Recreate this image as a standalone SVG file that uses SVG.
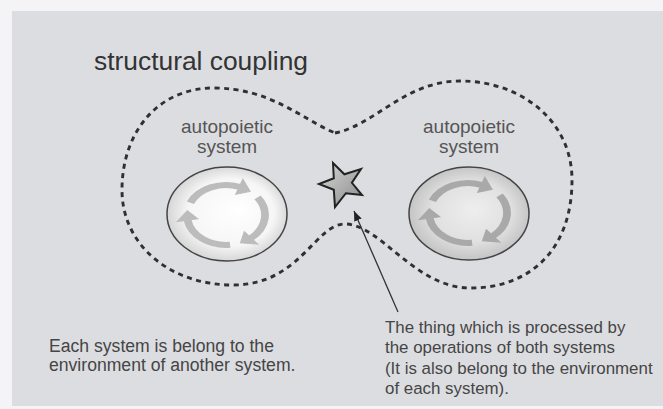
<svg xmlns="http://www.w3.org/2000/svg" width="663" height="409" viewBox="0 0 663 409">
  <defs>
    <style>
      .title { font-family: "Liberation Sans", Arial, sans-serif; font-size: 25px; fill: #333333; }
      .lbl { font-family: "Liberation Sans", Arial, sans-serif; font-size: 19px; fill: #555555; text-anchor: middle; }
      .note { font-family: "Liberation Sans", Arial, sans-serif; fill: #454545; }
      .outline { fill: none; stroke: #303030; stroke-width: 2.9; stroke-dasharray: 5 4.5; }
      .sys { stroke: #444; stroke-width: 1.5; }
      .shaft { fill: none; stroke-width: 6; }
    </style>
    <radialGradient id="gL" cx="0.5" cy="0.5" r="0.55" fx="0.6" fy="0.45">
      <stop offset="0" stop-color="#ffffff"/>
      <stop offset="0.65" stop-color="#f6f6f6"/>
      <stop offset="1" stop-color="#cdcdcd"/>
    </radialGradient>
    <radialGradient id="gR" cx="0.5" cy="0.5" r="0.55" fx="0.55" fy="0.45">
      <stop offset="0" stop-color="#eeeeee"/>
      <stop offset="0.6" stop-color="#e0e0e0"/>
      <stop offset="1" stop-color="#bdbdbd"/>
    </radialGradient>
    <linearGradient id="gStar" x1="0" y1="0" x2="1" y2="1">
      <stop offset="0" stop-color="#d8d8d8"/>
      <stop offset="1" stop-color="#8a8a8a"/>
    </linearGradient>
    <marker id="ah" viewBox="0 0 10 8" refX="10" refY="4" markerWidth="10" markerHeight="8" markerUnits="userSpaceOnUse" orient="auto">
      <path d="M0,0 L10,4 L0,8 Z" fill="#222"/>
    </marker>
    <g id="cycle">
      <path class="shaft" d="M -27.41 -12.20 A 30 30 0 0 1 10.26 -28.19"/>
      <polygon points="7.52,-20.67 13.0,-35.71 18.47,-23.64"/>
      <path class="shaft" d="M 24.27 -17.63 A 30 30 0 0 1 19.28 22.98"/>
      <polygon points="14.14,16.85 24.43,29.11 11.24,27.82"/>
      <path class="shaft" d="M 3.14 29.84 A 30 30 0 0 1 -29.54 5.21"/>
      <polygon points="-21.67,3.82 -37.42,6.60 -29.71,-4.18"/>
    </g>
  </defs>

  <rect x="0" y="0" width="663" height="409" fill="#f4f4f6"/>
  <rect x="12" y="11" width="651" height="395" fill="#dcdde1"/>

  <text class="title" x="94" y="70" textLength="214" lengthAdjust="spacingAndGlyphs">structural coupling</text>

  <g id="connectors">
    <path class="outline" d="M 335 133 C 375 125 405 81 460 81 C 520 81 572 120 572 180 C 572 250 530 288 470 288 C 415 288 380 224 345 224 C 315 224 300 285 233 285 C 170 285 122 245 122 190 C 122 130 160 88 213 88 C 270 88 300 118 335 133 Z"/>
    <line x1="398" y1="312" x2="354" y2="211" stroke="#333" stroke-width="1.3" marker-end="url(#ah)"/>
  </g>

  <g id="system-left">
    <text class="lbl" x="227" y="133">autopoietic</text>
    <text class="lbl" x="227" y="153">system</text>
    <ellipse class="sys" cx="227" cy="214" rx="60" ry="47" fill="url(#gL)"/>
    <use href="#cycle" transform="translate(226,215) scale(1.3,1)" stroke="#bcbcbc" fill="#bcbcbc"/>
  </g>

  <g id="system-right">
    <text class="lbl" x="469" y="133">autopoietic</text>
    <text class="lbl" x="469" y="153">system</text>
    <ellipse class="sys" cx="469" cy="213.5" rx="60" ry="46.5" fill="url(#gR)"/>
    <use href="#cycle" transform="translate(468,213) scale(1.3,1)" stroke="#a9a9a9" fill="#a9a9a9"/>
  </g>

  <g id="star">
    <polygon points="333,163 344.4,174.3 361,169 351.9,182.8 362,195 345.9,193.2 335,207 333.8,189.7 319,184 333.8,178.3" fill="url(#gStar)" stroke="#222" stroke-width="2" stroke-linejoin="miter"/>
  </g>

  <g id="note-left">
    <text class="note" font-size="17.6" x="49" y="352">Each system is belong to the</text>
    <text class="note" font-size="17.6" x="49" y="371">environment of another system.</text>
  </g>

  <g id="note-right">
    <text class="note" font-size="16.9" x="385" y="333">The thing which is processed by</text>
    <text class="note" font-size="16.9" x="385" y="353">the operations of both systems</text>
    <text class="note" font-size="16.9" x="385" y="374">(It is also belong to the environment</text>
    <text class="note" font-size="16.9" x="385" y="394">of each system).</text>
  </g>
</svg>
